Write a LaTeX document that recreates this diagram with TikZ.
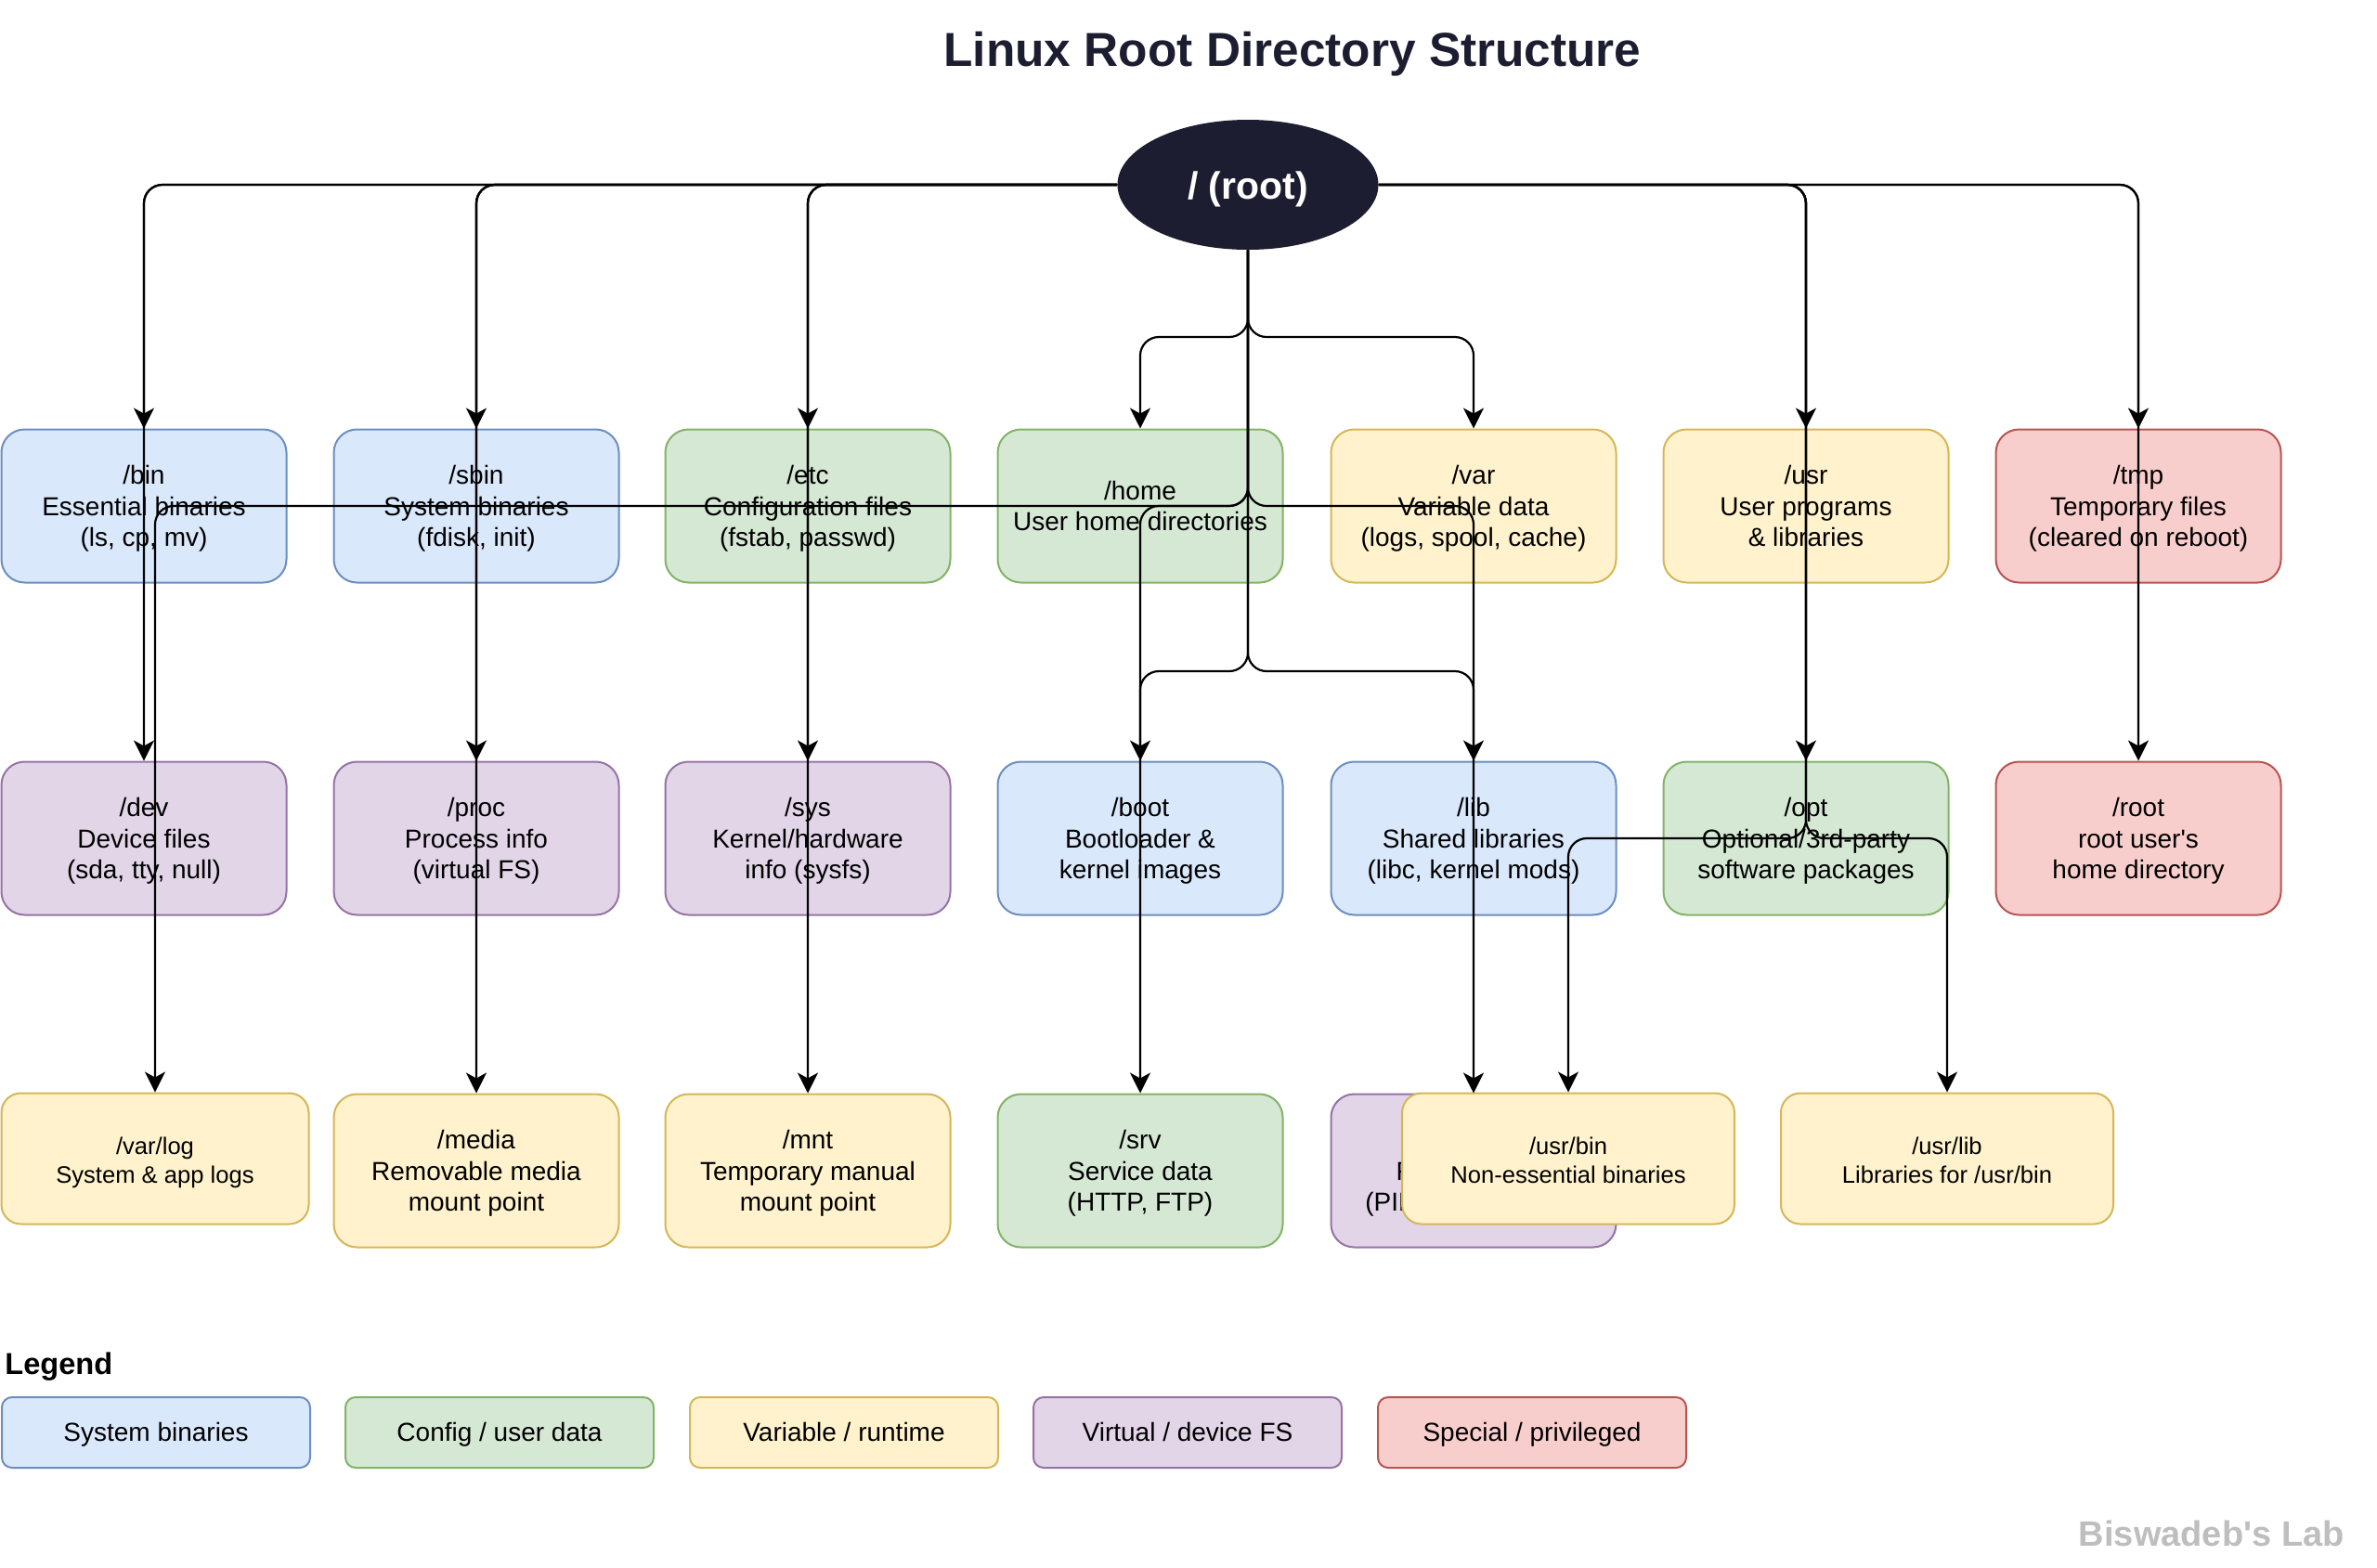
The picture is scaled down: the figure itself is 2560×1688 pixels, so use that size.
\documentclass[tikz,border=0pt]{standalone}
\usepackage{fontspec}
\setmainfont{Liberation Sans}
\usetikzlibrary{arrows.meta,calc,positioning,shapes.geometric}
\definecolor{rootnavy}{RGB}{28,29,48}
\definecolor{binfill}{RGB}{218,232,252}
\definecolor{binline}{RGB}{108,142,191}
\definecolor{cfgfill}{RGB}{213,232,212}
\definecolor{cfgline}{RGB}{130,179,102}
\definecolor{varfill}{RGB}{255,242,204}
\definecolor{varline}{RGB}{214,182,86}
\definecolor{virtfill}{RGB}{225,213,231}
\definecolor{virtline}{RGB}{150,115,166}
\definecolor{specfill}{RGB}{248,206,204}
\definecolor{specline}{RGB}{184,84,80}
\definecolor{marktext}{RGB}{190,190,190}
\tikzset{
  topgap/.initial=15.1pt,
  dirbox/.style={draw=#1line,fill=#1fill,line width=1pt,rounded corners=12.5pt,
    minimum width=153.5pt,minimum height=82.5pt,align=center,inner sep=2pt,
    font=\fontsize{14}{16.8}\selectfont,execute at end node=\strut},
  subbox/.style={dirbox=#1,rounded corners=10.5pt,minimum height=70.5pt,topgap=15.9pt,
    font=\fontsize{12.8}{15.4}\selectfont},
  keybox/.style={dirbox=#1,rounded corners=5.5pt,minimum width=166pt,minimum height=38pt,
    execute at begin node={\rule{0pt}{14.76pt}}},
  rootnode/.style={ellipse,fill=rootnavy,text=white,inner sep=0pt,
    minimum width=140.5pt,minimum height=70pt,font=\fontsize{20.5}{24}\selectfont\bfseries,
    execute at begin node={\rule{0pt}{20pt}}},
  link/.style={line width=1.1pt,rounded corners=10pt,
    -{Stealth[length=11pt,width=11pt,inset=3pt]}},
}
\newcommand{\dirnode}[4]{%
  \node[#2] (#1) at (#3) {\rule{0pt}{\pgfkeysvalueof{/tikz/topgap}}#4};%
}
\newcommand{\keyitem}[4]{%
  \node[keybox=#2] (#1) at (#3,1543) {#4};%
}

\begin{document}
\begin{tikzpicture}[x=0.5pt,y=-0.5pt]
  \useasboundingbox (0,0) rectangle (2560,1688);
  \node[text=rootnavy,font=\fontsize{25.7}{30}\selectfont\bfseries] (title) at (1392,59) {\strut Linux Root Directory Structure};
  \node[rootnode] (root) at (1344,199) {/ (root)};
  \coordinate (topbus) at (1344,363);
  \coordinate (midbus) at (1344,723);
  % first level
  \dirnode{bin}{dirbox=bin}{155,545}{/bin\\Essential binaries\\(ls, cp, mv)}
  \dirnode{sbin}{dirbox=bin}{513,545}{/sbin\\System binaries\\(fdisk, init)}
  \dirnode{etc}{dirbox=cfg}{870,545}{/etc\\Configuration files\\(fstab, passwd)}
  \dirnode{home}{dirbox=cfg}{1228,545}{/home\\User home directories}
  \dirnode{var}{dirbox=var}{1587,545}{/var\\Variable data\\(logs, spool, cache)}
  \dirnode{usr}{dirbox=var}{1945,545}{/usr\\User programs\\\& libraries}
  \dirnode{tmp}{dirbox=spec}{2303,545}{/tmp\\Temporary files\\(cleared on reboot)}
  % second level
  \dirnode{dev}{dirbox=virt}{155,903}{/dev\\Device files\\(sda, tty, null)}
  \dirnode{proc}{dirbox=virt}{513,903}{/proc\\Process info\\(virtual FS)}
  \dirnode{sys}{dirbox=virt}{870,903}{/sys\\Kernel/hardware\\info (sysfs)}
  \dirnode{boot}{dirbox=bin}{1228,903}{/boot\\Bootloader \&\\kernel images}
  \dirnode{lib}{dirbox=bin}{1587,903}{/lib\\Shared libraries\\(libc, kernel mods)}
  \dirnode{opt}{dirbox=cfg}{1945,903}{/opt\\Optional/3rd-party\\software packages}
  \dirnode{rootdir}{dirbox=spec}{2303,903}{/root\\root user\textquotesingle s\\home directory}
  % third level
  \dirnode{varlog}{subbox=var,minimum width=165.5pt}{167,1248}{/var/log\\System \& app logs}
  \dirnode{media}{dirbox=var}{513,1261}{/media\\Removable media\\mount point}
  \dirnode{mnt}{dirbox=var}{870,1261}{/mnt\\Temporary manual\\mount point}
  \dirnode{srv}{dirbox=cfg}{1228,1261}{/srv\\Service data\\(HTTP, FTP)}
  \dirnode{run}{dirbox=virt}{1587,1261}{/run\\Runtime data\\(PID files, sockets)}
  \dirnode{usrbin}{subbox=var,minimum width=179pt}{1689,1248}{/usr/bin\\Non-essential binaries}
  \dirnode{usrlib}{subbox=var,minimum width=179pt}{2097,1248}{/usr/lib\\Libraries for /usr/bin}
  % connectors
  \draw[link] (root.west) -| (bin.north);
  \draw[link] (root.west) -| (sbin.north);
  \draw[link] (root.west) -| (etc.north);
  \draw[link] (root.south) |- (home.north |- topbus) -- (home.north);
  \draw[link] (root.south) |- (var.north |- topbus) -- (var.north);
  \draw[link] (root.east) -| (usr.north);
  \draw[link] (root.east) -| (tmp.north);
  \draw[link] (root.west) -| (dev.north);
  \draw[link] (root.west) -| (proc.north);
  \draw[link] (root.west) -| (sys.north);
  \draw[link] (root.south) |- (boot.north |- midbus) -- (boot.north);
  \draw[link] (root.south) |- (lib.north |- midbus) -- (lib.north);
  \draw[link] (root.east) -| (opt.north);
  \draw[link] (root.east) -| (rootdir.north);
  \draw[link] (root.south) |- (varlog.north |- home.center) -- (varlog.north);
  \draw[link] (root.west) -| (media.north);
  \draw[link] (root.west) -| (mnt.north);
  \draw[link] (root.south) |- (srv.north |- home.center) -- (srv.north);
  \draw[link] (root.south) |- (run.north |- home.center) -- (run.north);
  \draw[link] (root.east) -| (opt.center) -| (usrbin.north);
  \draw[link] (root.east) -| (opt.center) -| (usrlib.north);
  % legend
  \node[anchor=west,inner sep=0pt,font=\fontsize{16.3}{19}\selectfont\bfseries] (legend) at (5,1472) {Legend};
  \keyitem{keybin}{bin}{168}{System binaries}
  \keyitem{keycfg}{cfg}{538}{Config / user data}
  \keyitem{keyvar}{var}{909}{Variable / runtime}
  \keyitem{keyvirt}{virt}{1279}{Virtual / device FS}
  \keyitem{keyspec}{spec}{1650}{Special / privileged}
  \node[anchor=east,inner sep=0pt,text=marktext,font=\fontsize{19}{22}\selectfont\bfseries] (mark) at (2525,1652) {Biswadeb\textquotesingle s Lab};
\end{tikzpicture}
\end{document}
